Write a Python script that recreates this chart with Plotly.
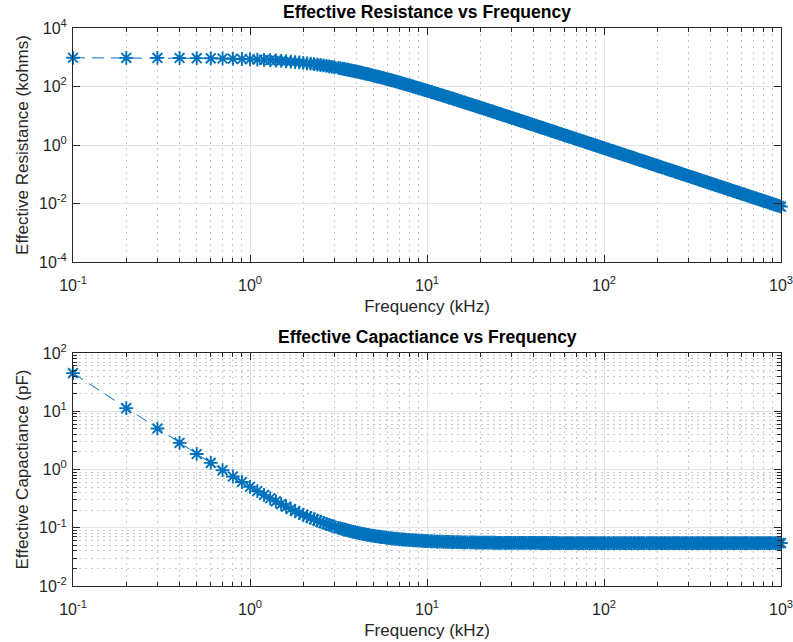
import plotly.graph_objects as go

# Frequency points (kHz) and the effective resistance / capacitance read at each one
freq_khz = [
    0.1, 0.2, 0.3, 0.4, 0.5, 0.6, 0.7, 0.8, 0.9, 1.0,
    1.1, 1.2, 1.3, 1.4, 1.5, 1.6, 1.7, 1.8, 1.9, 2.0,
    2.1, 2.2, 2.3, 2.4, 2.5, 2.6, 2.7, 2.8, 2.9, 3.0,
    3.16, 3.24, 3.32, 3.40, 3.48, 3.57, 3.65, 3.74, 3.83, 3.92, 4.02, 4.12,
    4.22, 4.32, 4.42, 4.53, 4.64, 4.75, 4.87, 4.99, 5.11, 5.23, 5.36, 5.49,
    5.62, 5.76, 5.90, 6.04, 6.19, 6.34, 6.49, 6.65, 6.81, 6.98, 7.15, 7.32,
    7.50, 7.68, 7.87, 8.06, 8.25, 8.45, 8.66, 8.87, 9.09, 9.31, 9.53, 9.76,
    10, 10.2, 10.5, 10.7, 11, 11.3, 11.5, 11.8, 12.1, 12.4, 12.7, 13.0,
    13.3, 13.7, 14, 14.3, 14.7, 15.0, 15.4, 15.8, 16.2, 16.5, 16.9, 17.4,
    17.8, 18.2, 18.7, 19.1, 19.6, 20.0, 20.5, 21.0, 21.5, 22.1, 22.6, 23.2,
    23.7, 24.3, 24.9, 25.5, 26.1, 26.7, 27.4, 28.0, 28.7, 29.4, 30.1, 30.9,
    31.6, 32.4, 33.2, 34.0, 34.8, 35.7, 36.5, 37.4, 38.3, 39.2, 40.2, 41.2,
    42.2, 43.2, 44.2, 45.3, 46.4, 47.5, 48.7, 49.9, 51.1, 52.3, 53.6, 54.9,
    56.2, 57.6, 59, 60.4, 61.9, 63.4, 64.9, 66.5, 68.1, 69.8, 71.5, 73.2,
    75, 76.8, 78.7, 80.6, 82.5, 84.5, 86.6, 88.7, 90.9, 93.1, 95.3, 97.6,
    100, 102, 105, 107, 110, 113, 115, 118, 121, 124, 127, 130,
    133, 137, 140, 143, 147, 150, 154, 158, 162, 165, 169, 174,
    178, 182, 187, 191, 196, 200, 205, 210, 215, 221, 226, 232,
    237, 243, 249, 255, 261, 267, 274, 280, 287, 294, 301, 309,
    316, 324, 332, 340, 348, 357, 365, 374, 383, 392, 402, 412,
    422, 432, 442, 453, 464, 475, 487, 499, 511, 523, 536, 549,
    562, 576, 590, 604, 619, 634, 649, 665, 681, 698, 715, 732,
    750, 768, 787, 806, 825, 845, 866, 887, 909, 931, 953, 976,
    1000,
]

resistance_kohm = [
    959, 955, 949, 941, 931, 919, 905, 890, 873, 855,
    836, 815, 795, 773, 752, 730, 708, 686, 665, 643,
    622, 602, 581, 562, 543, 524, 506, 488, 472, 455,
    431, 419, 407, 396, 385, 374, 364, 353, 342, 332, 321, 311,
    301, 291, 282, 272, 263, 254, 245, 236, 228, 220, 212, 204,
    196, 189, 182, 175, 168, 161, 155, 149, 143, 137, 132, 126,
    121, 116, 111, 107, 102, 98.1, 93.8, 89.8, 85.9, 82.3, 78.8, 75.4,
    72.1, 69.5, 65.9, 63.6, 60.4, 57.4, 55.5, 52.9, 50.5, 48.2, 46.0, 44.0,
    42.1, 39.8, 38.2, 36.7, 34.8, 33.4, 31.8, 30.3, 28.8, 27.8, 26.5, 25.1,
    24.0, 23.0, 21.8, 20.9, 19.9, 19.1, 18.2, 17.4, 16.6, 15.7, 15.0, 14.3,
    13.7, 13.0, 12.4, 11.8, 11.3, 10.8, 10.3, 9.84, 9.37, 8.94, 8.53, 8.10,
    7.75, 7.37, 7.02, 6.70, 6.40, 6.08, 5.82, 5.54, 5.29, 5.05, 4.80, 4.57,
    4.36, 4.16, 3.97, 3.78, 3.61, 3.44, 3.28, 3.12, 2.98, 2.84, 2.71, 2.58,
    2.46, 2.34, 2.23, 2.13, 2.03, 1.94, 1.85, 1.76, 1.68, 1.60, 1.52, 1.45,
    1.38, 1.32, 1.26, 1.20, 1.14, 1.09, 1.04, 0.990, 0.943, 0.899, 0.858, 0.818,
    0.780, 0.749, 0.707, 0.681, 0.644, 0.611, 0.590, 0.560, 0.533, 0.507, 0.483, 0.461,
    0.441, 0.415, 0.398, 0.381, 0.361, 0.347, 0.329, 0.312, 0.297, 0.286, 0.273, 0.258,
    0.246, 0.235, 0.223, 0.214, 0.203, 0.195, 0.186, 0.177, 0.169, 0.160, 0.153, 0.145,
    0.139, 0.132, 0.126, 0.120, 0.114, 0.109, 0.104, 0.0995, 0.0947, 0.0902, 0.0861, 0.0817,
    0.0781, 0.0743, 0.0707, 0.0675, 0.0644, 0.0612, 0.0585, 0.0557, 0.0532, 0.0507, 0.0483, 0.0459,
    0.0438, 0.0418, 0.0399, 0.0380, 0.0362, 0.0346, 0.0329, 0.0313, 0.0299, 0.0285, 0.0271, 0.0259,
    0.0247, 0.0235, 0.0224, 0.0214, 0.0204, 0.0194, 0.0185, 0.0176, 0.0168, 0.0160, 0.0153, 0.0146,
    0.0139, 0.0132, 0.0126, 0.0120, 0.0115, 0.0109, 0.0104, 0.00991, 0.00944, 0.00900, 0.00859, 0.00819,
    0.00780,
]

capacitance_pf = [
    45.1, 11.3, 5.05, 2.87, 1.85, 1.30, 0.973, 0.758, 0.610, 0.505,
    0.426, 0.367, 0.321, 0.284, 0.255, 0.230, 0.210, 0.193, 0.179, 0.167,
    0.157, 0.148, 0.140, 0.133, 0.127, 0.121, 0.116, 0.112, 0.108, 0.105,
    0.0996, 0.0974, 0.0953, 0.0934, 0.0917, 0.0898, 0.0883, 0.0867, 0.0852, 0.0838, 0.0823, 0.0810,
    0.0798, 0.0786, 0.0775, 0.0764, 0.0754, 0.0744, 0.0735, 0.0726, 0.0717, 0.0710, 0.0702, 0.0694,
    0.0688, 0.0681, 0.0674, 0.0668, 0.0662, 0.0657, 0.0652, 0.0647, 0.0642, 0.0637, 0.0633, 0.0629,
    0.0625, 0.0621, 0.0618, 0.0614, 0.0611, 0.0608, 0.0605, 0.0602, 0.0600, 0.0597, 0.0595, 0.0592,
    0.0590, 0.0588, 0.0586, 0.0584, 0.0582, 0.0580, 0.0579, 0.0577, 0.0576, 0.0574, 0.0573, 0.0572,
    0.0570, 0.0569, 0.0568, 0.0567, 0.0566, 0.0565, 0.0564, 0.0563, 0.0562, 0.0562, 0.0561, 0.0560,
    0.0559, 0.0559, 0.0558, 0.0557, 0.0557, 0.0556, 0.0556, 0.0555, 0.0555, 0.0554, 0.0554, 0.0553,
    0.0553, 0.0553, 0.0552, 0.0552, 0.0552, 0.0551, 0.0551, 0.0551, 0.0550, 0.0550, 0.0550, 0.0550,
    0.0549, 0.0549, 0.0549, 0.0549, 0.0549, 0.0549, 0.0548, 0.0548, 0.0548, 0.0548, 0.0548, 0.0548,
    0.0548, 0.0547, 0.0547, 0.0547, 0.0547, 0.0547, 0.0547, 0.0547, 0.0547, 0.0547, 0.0547, 0.0546,
    0.0546, 0.0546, 0.0546, 0.0546, 0.0546, 0.0546, 0.0546, 0.0546, 0.0546, 0.0546, 0.0546, 0.0546,
    0.0546, 0.0546, 0.0546, 0.0546, 0.0546, 0.0546, 0.0546, 0.0546, 0.0546, 0.0546, 0.0545, 0.0545,
    0.0545, 0.0545, 0.0545, 0.0545, 0.0545, 0.0545, 0.0545, 0.0545, 0.0545, 0.0545, 0.0545, 0.0545,
    0.0545, 0.0545, 0.0545, 0.0545, 0.0545, 0.0545, 0.0545, 0.0545, 0.0545, 0.0545, 0.0545, 0.0545,
    0.0545, 0.0545, 0.0545, 0.0545, 0.0545, 0.0545, 0.0545, 0.0545, 0.0545, 0.0545, 0.0545, 0.0545,
    0.0545, 0.0545, 0.0545, 0.0545, 0.0545, 0.0545, 0.0545, 0.0545, 0.0545, 0.0545, 0.0545, 0.0545,
    0.0545, 0.0545, 0.0545, 0.0545, 0.0545, 0.0545, 0.0545, 0.0545, 0.0545, 0.0545, 0.0545, 0.0545,
    0.0545, 0.0545, 0.0545, 0.0545, 0.0545, 0.0545, 0.0545, 0.0545, 0.0545, 0.0545, 0.0545, 0.0545,
    0.0545, 0.0545, 0.0545, 0.0545, 0.0545, 0.0545, 0.0545, 0.0545, 0.0545, 0.0545, 0.0545, 0.0545,
    0.0545, 0.0545, 0.0545, 0.0545, 0.0545, 0.0545, 0.0545, 0.0545, 0.0545, 0.0545, 0.0545, 0.0545,
    0.0545,
]

assert len(freq_khz) == len(resistance_kohm) == len(capacitance_pf)

# Axis decades
x_exps = [-1, 0, 1, 2, 3]
res_exps = [-4, -2, 0, 2, 4]
cap_exps = [-2, -1, 0, 1, 2]

BLUE = "#0072BD"
AXIS = "#262626"
FONT = "Liberation Sans, Arial, Helvetica, sans-serif"
W, H = 793, 642


def sup_labels(exps):
    return [f"10<sup>{e}</sup>" for e in exps]


def minor_vals(lo, hi):
    return [m * 10.0 ** e for e in range(lo, hi) for m in range(2, 10)]


def log_axis(exps, rng, minors, minor_grid, domain, anchor, title):
    return dict(
        type="log", range=rng, domain=domain, anchor=anchor, automargin=False,
        tickmode="array", tickvals=[10.0 ** e for e in exps], ticktext=sup_labels(exps),
        ticks="inside", ticklen=7, tickwidth=1, tickcolor=AXIS,
        showline=True, linecolor=AXIS, linewidth=1, mirror="ticks",
        showgrid=True, gridcolor="#E3E3E3", gridwidth=1, zeroline=False,
        tickfont=dict(family=FONT, size=16, color=AXIS),
        title=dict(text=title, font=dict(family=FONT, size=17, color=AXIS)),
        minor=dict(tickmode="array", tickvals=minors, ticks="inside", ticklen=4,
                   tickcolor=AXIS, tickwidth=1, showgrid=minor_grid,
                   gridcolor="#C8C8C8", gridwidth=1, griddash="2px,4px"),
    )


x_dom = [73 / W, 781 / W]
top_dom = [1 - 262 / H, 1 - 28 / H]
bot_dom = [1 - 586 / H, 1 - 353 / H]

line_style = dict(color=BLUE, width=1, dash="12px,7px")
marker_style = dict(symbol="asterisk-open", size=11.5, line=dict(color=BLUE, width=1.9))

fig = go.Figure()
fig.add_trace(go.Scatter(x=freq_khz, y=resistance_kohm, xaxis="x", yaxis="y",
                         mode="lines+markers", line=line_style, marker=marker_style,
                         cliponaxis=False, showlegend=False))
fig.add_trace(go.Scatter(x=freq_khz, y=capacitance_pf, xaxis="x2", yaxis="y2",
                         mode="lines+markers", line=line_style, marker=marker_style,
                         cliponaxis=False, showlegend=False))

xa = log_axis(x_exps, [-1, 3], minor_vals(-1, 3), True, x_dom, "y", "Frequency (kHz)")
xa2 = log_axis(x_exps, [-1, 3], minor_vals(-1, 3), True, x_dom, "y2", "Frequency (kHz)")
ya = log_axis(res_exps, [-4, 4], [], False, top_dom, "x", "Effective Resistance (kohms)")
ya2 = log_axis(cap_exps, [-2, 2], minor_vals(-2, 2), True, bot_dom, "x2", "Effective Capactiance (pF)")

for ax in (xa, xa2):
    ax["ticklabelstandoff"] = 9
    ax["ticklabeloverflow"] = "allow"
    ax["title"]["standoff"] = 6
for ax in (ya, ya2):
    ax["ticklabelstandoff"] = 2
    ax["title"]["standoff"] = 6

fig.update_layout(
    width=W, height=H, margin=dict(l=0, r=0, t=0, b=0),
    paper_bgcolor="white", plot_bgcolor="white",
    font=dict(family=FONT, color=AXIS),
    xaxis=xa, yaxis=ya, xaxis2=xa2, yaxis2=ya2,
    annotations=[
        dict(text="<b>Effective Resistance vs Frequency</b>", xref="paper", yref="paper",
             x=(x_dom[0] + x_dom[1]) / 2, y=top_dom[1] + 4 / H, xanchor="center", yanchor="bottom",
             showarrow=False, font=dict(family=FONT, size=17.5, color="black")),
        dict(text="<b>Effective Capactiance vs Frequency</b>", xref="paper", yref="paper",
             x=(x_dom[0] + x_dom[1]) / 2, y=bot_dom[1] + 4 / H, xanchor="center", yanchor="bottom",
             showarrow=False, font=dict(family=FONT, size=17.5, color="black")),
    ],
)

fig.write_html("out.html")
